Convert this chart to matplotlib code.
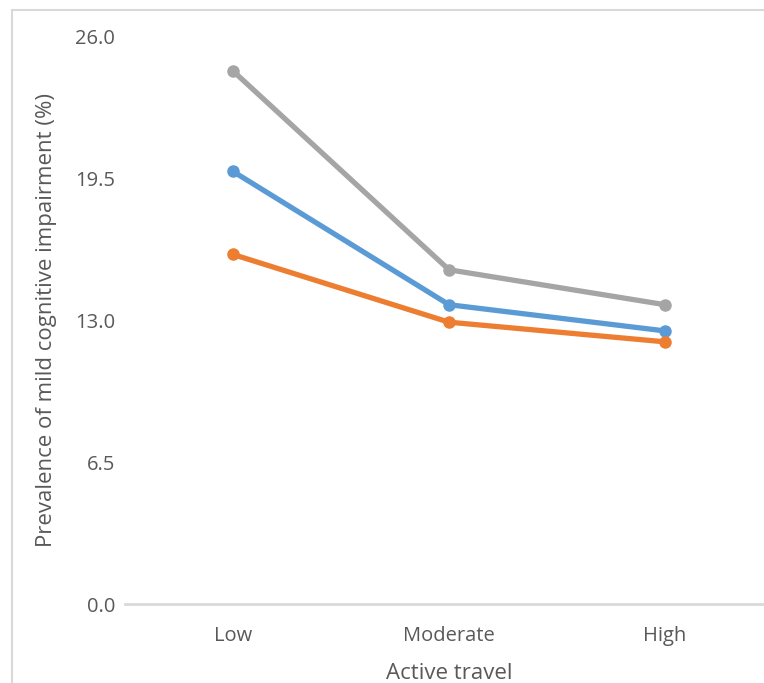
import matplotlib
matplotlib.use("Agg")
import matplotlib.pyplot as plt
from matplotlib.patches import Rectangle

### Data
categories = ["Low", "Moderate", "High"]
series_gray = [24.4, 15.3, 13.7]
series_blue = [19.8, 13.7, 12.5]
series_orange = [16.0, 12.9, 12.0]
yticks = [0.0, 6.5, 13.0, 19.5, 26.0]

plt.rcParams['font.family'] = ['Open Sans', 'DejaVu Sans']
text_col = '#595959'

### Figure
W, H = 764, 683
fig = plt.figure(figsize=(W / 100, H / 100), dpi=100)

# outer chart border (cropped on right/bottom)
fig.patches.append(Rectangle((12 / W, -0.1), 1.2, 1 - 10 / H + 0.1,
                             transform=fig.transFigure, fill=False,
                             edgecolor='#D9D9D9', linewidth=1.5))

ax = fig.add_axes([125 / W, 1 - 604 / H, 648 / W, 568 / H])

x = range(len(categories))
for vals, col in [(series_gray, '#A5A5A5'), (series_blue, '#5B9BD5'),
                  (series_orange, '#ED7D31')]:
    ax.plot(x, vals, color=col, linewidth=3.8, marker='o', markersize=8,
            solid_capstyle='round', clip_on=False)

ax.set_xlim(-0.5, 2.5)
ax.set_ylim(0, 26)
ax.set_xticks(list(x))
ax.set_xticklabels(categories)
ax.set_yticks(yticks)
ax.set_yticklabels([f"{v:.1f}" for v in yticks])
ax.tick_params(length=0, labelsize=14.5, colors=text_col)
ax.tick_params(axis='y', pad=7)
ax.tick_params(axis='x', pad=16)

for s in ['top', 'right', 'left']:
    ax.spines[s].set_visible(False)
ax.spines['bottom'].set_color('#D9D9D9')
ax.spines['bottom'].set_linewidth(2)

ax.set_xlabel("Active travel", fontsize=16, color=text_col, labelpad=12)
ax.set_ylabel("Prevalence of mild cognitive impairment (%)", fontsize=16,
              color=text_col, labelpad=13)

fig.savefig("out.png", dpi=100)
